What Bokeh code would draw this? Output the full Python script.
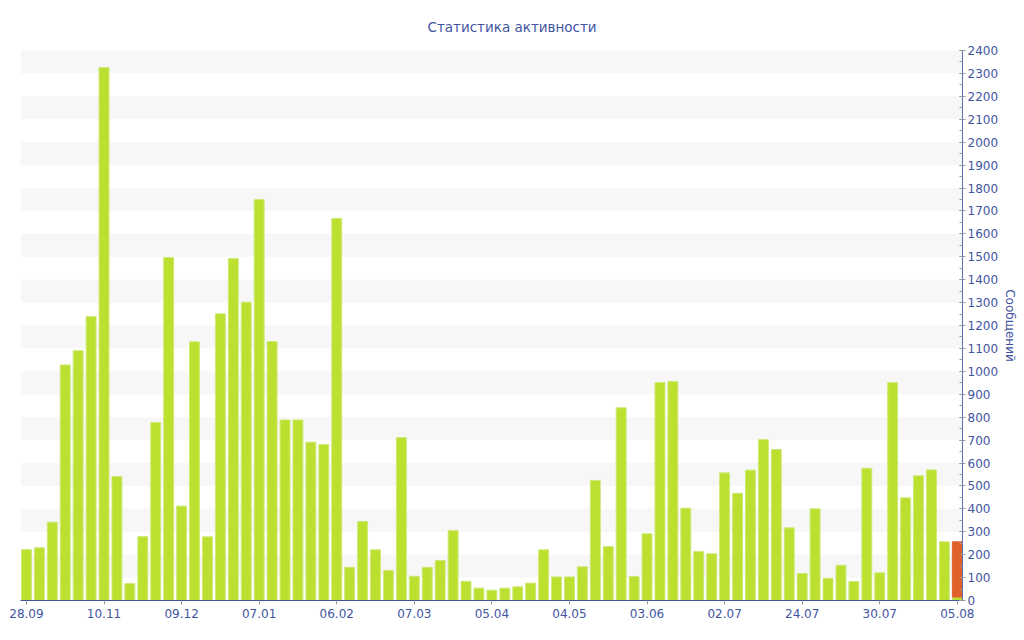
from bokeh.plotting import figure
from bokeh.models import Range1d, SingleIntervalTicker, FixedTicker, ColumnDataSource
from bokeh.embed import file_html
from bokeh.resources import INLINE

# ---- data ----
date_labels = ["28.09", "10.11", "09.12", "07.01", "06.02", "07.03", "05.04",
               "04.05", "03.06", "02.07", "24.07", "30.07", "05.08"]
label_step = 6

messages = [222, 230, 342, 1028, 1090, 1239, 2326, 541, 74, 279,
            777, 1497, 412, 1129, 278, 1251, 1492, 1302, 1750, 1130,
            788, 788, 691, 681, 1667, 145, 345, 221, 131, 711,
            106, 145, 175, 305, 84, 54, 45, 54, 60, 76,
            221, 103, 103, 147, 524, 236, 841, 105, 291, 951,
            956, 403, 214, 204, 557, 468, 569, 702, 659, 317,
            118, 400, 97, 154, 83, 577, 121, 951, 448, 544,
            570, 256, 15]
today_extra = [0] * 72 + [241]

x = list(range(len(messages)))
src = ColumnDataSource(dict(x=x, m=messages))
ex_idx = [i for i, e in enumerate(today_extra) if e > 0]
src2 = ColumnDataSource(dict(x=[x[i] for i in ex_idx],
                             b=[messages[i] for i in ex_idx],
                             t=[messages[i] + today_extra[i] for i in ex_idx]))

BLUE = "#3f559f"
FONT = "DejaVu Sans"

p = figure(width=1020, height=632, output_backend="svg", toolbar_location=None,
           x_range=Range1d(-0.46, 72.4), y_range=Range1d(0, 2400),
           y_axis_location="right", min_border_left=20, min_border_right=57,
           min_border_top=50, min_border_bottom=32)
p.outline_line_color = None
p.background_fill_color = "white"

p.title.text = "Статистика активности"
p.title.align = "left"
p.title.text_font = FONT
p.title.text_font_style = "normal"
p.title.text_font_size = "13.5px"
p.title.text_color = BLUE
p.title.offset = 407
p.title.standoff = 31

# grid bands
p.xgrid.grid_line_color = None
p.ygrid.grid_line_color = None
p.ygrid.ticker = SingleIntervalTicker(interval=100)
p.ygrid.band_fill_color = "#f7f7f7"
p.ygrid.band_fill_alpha = 1.0

# bars
p.vbar(x="x", top="m", bottom=0, width=0.77, source=src,
       fill_color="#bbe02f", line_color="#cfe97a", line_width=1)
p.vbar(x="x", top="t", bottom="b", width=0.77, source=src2,
       fill_color="#e0622a", line_color="#e0622a", line_width=1)

# y axis
ya = p.yaxis[0]
ya.ticker = SingleIntervalTicker(interval=100, num_minor_ticks=2)
ya.axis_label = "Сообщений"
ya.axis_label_text_font = FONT
ya.axis_label_text_font_style = "normal"
ya.axis_label_text_font_size = "12px"
ya.axis_label_text_color = BLUE
ya.axis_label_standoff = 2
ya.major_label_text_font = FONT
ya.major_label_text_font_size = "12px"
ya.major_label_text_color = BLUE
ya.major_label_standoff = 2
ya.axis_line_color = "#5b6eb3"
ya.major_tick_line_color = "#999999"
ya.major_tick_in = 3
ya.major_tick_out = 3
ya.minor_tick_line_color = "#999999"
ya.minor_tick_in = 3
ya.minor_tick_out = 0

# x axis
xa = p.xaxis[0]
tick_pos = [i * label_step for i in range(len(date_labels))]
xa.ticker = FixedTicker(ticks=tick_pos, minor_ticks=[])
xa.major_label_overrides = {pos: lab for pos, lab in zip(tick_pos, date_labels)}
xa.major_label_text_font = FONT
xa.major_label_text_font_size = "12px"
xa.major_label_text_color = BLUE
xa.major_label_standoff = 4
xa.axis_line_color = "#3f559f"
xa.major_tick_line_color = "#999999"
xa.major_tick_in = 0
xa.major_tick_out = 4
xa.minor_tick_line_color = None

open("out.html", "w").write(file_html(p, INLINE))
